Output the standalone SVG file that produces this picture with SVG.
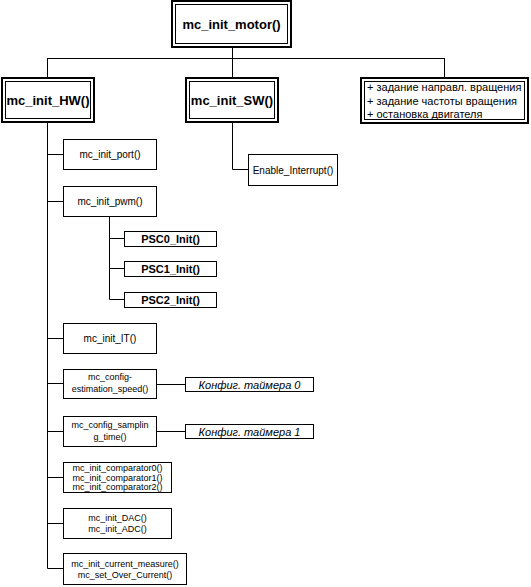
<svg xmlns="http://www.w3.org/2000/svg" width="531" height="587" viewBox="0 0 531 587">
<style>
.b{fill:#fff;stroke:#000;stroke-width:1}
.o{fill:#fff;stroke:#000;stroke-width:2}
.i{fill:none;stroke:#000;stroke-width:1}
.c{fill:none;stroke:#000;stroke-width:1}
text{font-family:"Liberation Sans",Arial,sans-serif;fill:#000}
.h{font-size:13px;font-weight:bold;text-anchor:middle}
.s{font-size:10px;text-anchor:middle}
.t{font-size:9px;text-anchor:middle}
.p{font-size:11px;font-weight:bold;text-anchor:middle}
.k{font-size:11px;font-style:italic;text-anchor:middle}
.r{font-size:11px}
</style>
<rect width="531" height="587" fill="#fff"/>
<g id="connectors">
<path class="c" d="M232.5 47V78M47.5 58.5H444.5M47.5 58V78M444.5 58V78"/>
<path class="c" d="M47.5 122V568.5M47.5 154.5H63M47.5 201.5H63M47.5 338.5H63M47.5 383.5H63M47.5 431.5H63M47.5 477.5H63M47.5 523.5H63M47.5 568.5H63"/>
<path class="c" d="M109.5 216V299.5M109.5 238.5H124M109.5 268.5H124M109.5 299.5H124"/>
<path class="c" d="M232.5 122V169.5H248"/>
<path class="c" d="M156.5 384.5H185M156.5 431.5H185"/>
</g>
<g id="mc_init_motor">
<rect class="o" x="172" y="1" width="119" height="46"/>
<rect class="i" x="175.5" y="4.5" width="112" height="39"/>
<text class="h" x="231.5" y="29">mc_init_motor()</text>
</g>
<g id="mc_init_HW">
<rect class="o" x="2" y="78" width="92" height="44"/>
<rect class="i" x="5.5" y="81.5" width="85" height="37"/>
<text class="h" x="48" y="105">mc_init_HW()</text>
</g>
<g id="mc_init_SW">
<rect class="o" x="186" y="78" width="92" height="44"/>
<rect class="i" x="189.5" y="81.5" width="85" height="37"/>
<text class="h" x="232" y="105">mc_init_SW()</text>
</g>
<g id="notes">
<rect class="o" x="361" y="78" width="167" height="45"/>
<rect class="i" x="364.5" y="81.5" width="160" height="38"/>
<text class="r" x="367" y="91">+ задание направл. вращения</text>
<text class="r" x="367" y="105">+ задание частоты вращения</text>
<text class="r" x="367" y="118">+ остановка двигателя</text>
</g>
<g id="mc_init_port">
<rect class="b" x="63.5" y="139.5" width="93" height="30"/>
<text class="s" x="110" y="158">mc_init_port()</text>
</g>
<g id="mc_init_pwm">
<rect class="b" x="63.5" y="186.5" width="93" height="30"/>
<text class="s" x="110" y="205">mc_init_pwm()</text>
</g>
<g id="Enable_Interrupt">
<rect class="b" x="248.5" y="154.5" width="89" height="31"/>
<text class="s" x="293" y="173.5">Enable_Interrupt()</text>
</g>
<g id="PSC0_Init">
<rect class="b" x="124.5" y="231.5" width="92" height="15"/>
<text class="p" x="170.5" y="243">PSC0_Init()</text>
</g>
<g id="PSC1_Init">
<rect class="b" x="124.5" y="261.5" width="92" height="15"/>
<text class="p" x="170.5" y="273">PSC1_Init()</text>
</g>
<g id="PSC2_Init">
<rect class="b" x="124.5" y="292.5" width="92" height="15"/>
<text class="p" x="170.5" y="304">PSC2_Init()</text>
</g>
<g id="mc_init_IT">
<rect class="b" x="63.5" y="323.5" width="93" height="30"/>
<text class="s" x="110" y="342">mc_init_IT()</text>
</g>
<g id="mc_config_estimation_speed">
<rect class="b" x="63.5" y="369.5" width="93" height="29"/>
<text class="t" x="110" y="380">mc_config-</text>
<text class="t" x="110" y="392">estimation_speed()</text>
</g>
<g id="konfig0">
<rect class="b" x="185.5" y="377.5" width="128" height="14"/>
<text class="k" x="249.5" y="388.5">Конфиг. таймера 0</text>
</g>
<g id="mc_config_sampling_time">
<rect class="b" x="63.5" y="416.5" width="93" height="30"/>
<text class="t" x="110" y="428">mc_config_samplin</text>
<text class="t" x="110" y="440">g_time()</text>
</g>
<g id="konfig1">
<rect class="b" x="185.5" y="424.5" width="128" height="14"/>
<text class="k" x="249.5" y="435.5">Конфиг. таймера 1</text>
</g>
<g id="mc_init_comparators">
<rect class="b" x="63.5" y="462.5" width="108" height="30"/>
<text class="t" x="117.5" y="470.5">mc_init_comparator0()</text>
<text class="t" x="117.5" y="480.5">mc_init_comparator1()</text>
<text class="t" x="117.5" y="490">mc_init_comparator2()</text>
</g>
<g id="mc_init_DAC_ADC">
<rect class="b" x="63.5" y="508.5" width="108" height="30"/>
<text class="t" x="117.5" y="521">mc_init_DAC()</text>
<text class="t" x="117.5" y="532">mc_init_ADC()</text>
</g>
<g id="mc_init_current_measure">
<rect class="b" x="63.5" y="553.5" width="123" height="31"/>
<text class="t" x="125" y="566.5">mc_init_current_measure()</text>
<text class="t" x="125" y="578">mc_set_Over_Current()</text>
</g>
</svg>
